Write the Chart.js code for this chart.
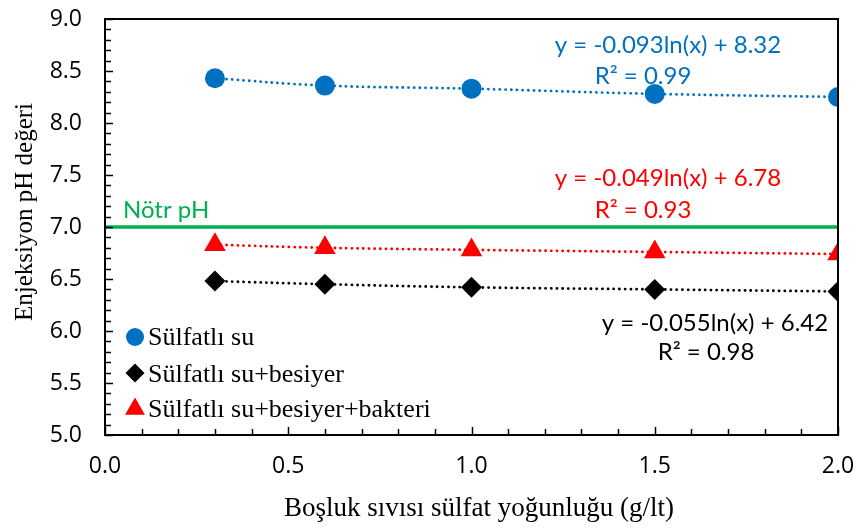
<!DOCTYPE html>
<html><head><meta charset="utf-8">
<script src="https://cdn.jsdelivr.net/npm/chart.js@4/dist/chart.umd.min.js"></script>
<style>html,body{margin:0;padding:0;background:#fff}#wrap{width:858px;height:528px}</style>
</head><body><div id="wrap"><canvas id="c" width="858" height="528"></canvas></div>
<script>
const concentrations = [0.3, 0.6, 1.0, 1.5, 2.0];
const phSulfatliSu = [8.43, 8.36, 8.33, 8.28, 8.25];
const phBesiyer = [6.48, 6.45, 6.42, 6.40, 6.38];
const phBakteri = [6.83, 6.80, 6.78, 6.76, 6.74];
const neutralX = [0, 2.0];
const neutralPH = [7.0, 7.0];
const seriesNames = ['Sülfatlı su', 'Sülfatlı su+besiyer', 'Sülfatlı su+besiyer+bakteri'];
const eqBlue = ['y = -0.093ln(x) + 8.32', 'R² = 0.99'];
const eqRed = ['y = -0.049ln(x) + 6.78', 'R² = 0.93'];
const eqBlack = ['y = -0.055ln(x) + 6.42', 'R² = 0.98'];
const neutralLabel = 'Nötr pH';
const xTitle = 'Boşluk sıvısı sülfat yoğunluğu (g/lt)';
const yTitle = 'Enjeksiyon pH değeri';

const BLUE = '#0070C0', RED = '#FF0000', BLACK = '#000000', GREEN = '#00B050';
const eqFont = 'Lato, "Open Sans", sans-serif';
const tickFont = '"Open Sans", Lato, sans-serif';
const serif = '"Liberation Serif", "Times New Roman", serif';

const pts = (xs, ys) => xs.map((x, i) => ({x, y: ys[i]}));

function series(label, ys, color, style, r) {
  return {
    label, data: pts(concentrations, ys), showLine: true,
    borderColor: color, backgroundColor: color,
    borderWidth: 2.8, borderDash: [0.1, 5.6], borderCapStyle: 'round',
    pointStyle: style, pointRadius: r, pointHoverRadius: r,
    pointBorderWidth: 0, tension: 0.4
  };
}

const decor = {
  id: 'decor',
  afterDraw(chart) {
    const ctx = chart.ctx, a = chart.chartArea;
    const xs = chart.scales.x, ys = chart.scales.y;
    ctx.save();
    ctx.strokeStyle = '#000'; ctx.lineWidth = 2;
    ctx.strokeRect(a.left, a.top, a.right - a.left, a.bottom - a.top);
    ctx.lineWidth = 1.5;
    for (let i = 0; i <= 20; i++) {
      const px = Math.round(xs.getPixelForValue(i / 10)) + 0.5;
      const len = (i % 5 === 0) ? 8 : 6;
      ctx.beginPath(); ctx.moveTo(px, a.bottom); ctx.lineTo(px, a.bottom - len); ctx.stroke();
    }
    for (let i = 50; i <= 90; i++) {
      const py = Math.round(ys.getPixelForValue(i / 10)) + 0.5;
      const len = (i % 5 === 0) ? 8 : 6;
      ctx.beginPath(); ctx.moveTo(a.left, py); ctx.lineTo(a.left + len, py); ctx.stroke();
    }
    // equations
    ctx.textAlign = 'center'; ctx.textBaseline = 'middle';
    ctx.font = '24px ' + eqFont;
    ctx.fillStyle = BLUE;
    ctx.fillText(eqBlue[0], 668, 45); ctx.fillText(eqBlue[1], 643, 76);
    ctx.fillStyle = RED;
    ctx.fillText(eqRed[0], 668, 178); ctx.fillText(eqRed[1], 643, 210);
    ctx.fillStyle = BLACK;
    ctx.fillText(eqBlack[0], 715, 323); ctx.fillText(eqBlack[1], 706, 352);
    ctx.textAlign = 'left';
    ctx.fillStyle = GREEN;
    ctx.fillText(neutralLabel, 123, 210);
    // legend
    const items = [[seriesNames[0], BLUE, 'circle', 337, 345, 9], [seriesNames[1], BLACK, 'rectRot', 373, 382, 9.5], [seriesNames[2], RED, 'triangle', 409, 417, 11.5]];
    ctx.font = '26px ' + serif;
    ctx.textBaseline = 'alphabetic';
    items.forEach(([t, c, s, my, ty, r]) => {
      ctx.fillStyle = c; ctx.strokeStyle = c;
      Chart.helpers.drawPoint(ctx, {pointStyle: s, radius: r, borderWidth: 0}, 135, my);
      ctx.fillStyle = '#000';
      ctx.fillText(t, 148, ty);
    });
    // axis titles
    ctx.textAlign = 'center'; ctx.textBaseline = 'middle';
    ctx.fillStyle = '#000';
    ctx.font = '27px ' + serif;
    ctx.fillText(xTitle, 479, 509);
    ctx.save();
    ctx.translate(25, 212); ctx.rotate(-Math.PI / 2);
    ctx.font = '25px ' + serif;
    ctx.fillText(yTitle, 0, 0);
    ctx.restore();
    ctx.restore();
  }
};

new Chart(document.getElementById('c'), {
  type: 'scatter',
  data: {
    datasets: [
      {label: 'neutral', data: pts(neutralX, neutralPH), showLine: true, borderColor: GREEN, borderWidth: 3.5, pointRadius: 0, order: 5},
      series(seriesNames[0], phSulfatliSu, BLUE, 'circle', 10),
      series(seriesNames[1], phBesiyer, BLACK, 'rectRot', 10.5),
      series(seriesNames[2], phBakteri, RED, 'triangle', 12.5)
    ]
  },
  options: {
    responsive: false, animation: false,
    layout: {padding: {top: 19, right: 20, left: 0, bottom: 0}},
    plugins: {legend: {display: false}, tooltip: {enabled: false}},
    scales: {
      x: {
        type: 'linear', min: 0, max: 2.0,
        grid: {display: false, drawTicks: false},
        border: {display: false},
        ticks: {stepSize: 0.5, padding: 18, color: '#000', font: {size: 23, family: tickFont}, callback: v => v.toFixed(1)},
        afterFit: s => { s.height = 93; s.paddingLeft = 0; s.paddingRight = 0; }
      },
      y: {
        type: 'linear', min: 5.0, max: 9.0,
        grid: {display: false, drawTicks: false},
        border: {display: false},
        ticks: {stepSize: 0.5, padding: 23, color: '#000', font: {size: 23, family: tickFont}, callback: v => v.toFixed(1)},
        afterFit: s => { s.width = 105; s.paddingTop = 0; s.paddingBottom = 0; }
      }
    }
  },
  plugins: [decor]
});
</script></body></html>
